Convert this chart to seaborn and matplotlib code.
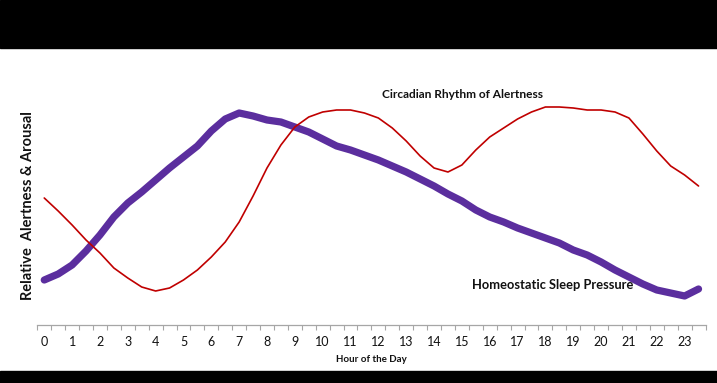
import matplotlib
matplotlib.use("Agg")
import matplotlib.pyplot as plt
from matplotlib.patches import Rectangle
import seaborn as sns
import pandas as pd

hours = [0, 0.5, 1, 1.5, 2, 2.5, 3, 3.5, 4, 4.5, 5, 5.5, 6, 6.5, 7, 7.5,
         8, 8.5, 9, 9.5, 10, 10.5, 11, 11.5, 12, 12.5, 13, 13.5, 14, 14.5,
         15, 15.5, 16, 16.5, 17, 17.5, 18, 18.5, 19, 19.5, 20, 20.5, 21,
         21.5, 22, 22.5, 23, 23.5]

circadian = [127, 114, 100, 85, 72, 57, 47, 38, 34, 37, 45, 55, 68, 83,
             103, 129, 157, 180, 198, 208, 213, 215, 215, 212, 207, 197,
             184, 169, 157, 153, 160, 175, 188, 197, 206, 213, 218, 218,
             217, 215, 215, 213, 207, 191, 174, 159, 150, 139]

homeostatic = [45, 51, 60, 74, 90, 108, 122, 133, 145, 157, 168, 179,
               194, 206, 212, 209, 205, 203, 198, 193, 186, 179, 175, 170,
               165, 159, 153, 146, 139, 131, 124, 115, 108, 103, 97, 92,
               87, 82, 75, 70, 63, 55, 48, 41, 35, 32, 29, 36]

tick_labels = [str(h) for h in range(24)]
label_hours = list(range(24))
boundaries = [h - 0.25 for h in hours] + [23.75]

sns.set_theme(style="white")
plt.rcParams['font.family'] = ['Lato', 'DejaVu Sans']

W, H = 717, 383
fig = plt.figure(figsize=(W / 100, H / 100), dpi=100)
fig.patch.set_facecolor("white")

ax = fig.add_axes([37.3 / W, (H - 325) / H, 668.2 / W, (325 - 48) / H])
ax.set_facecolor("white")

df = pd.DataFrame({"hour": hours, "circ": circadian, "homeo": homeostatic})
sns.lineplot(data=df, x="hour", y="homeo", ax=ax, color="#5B2E9E",
             linewidth=5.2, solid_capstyle="round", solid_joinstyle="round")
sns.lineplot(data=df, x="hour", y="circ", ax=ax, color="#C00000",
             linewidth=1.2)

ax.set_xlim(-0.25, 23.75)
ax.set_ylim(0, 277)
ax.set_xticks(label_hours)
ax.set_xticklabels(tick_labels, fontsize=9, color="#111111")
ax.set_xticks(boundaries, minor=True)
ax.tick_params(axis="x", which="major", length=0, pad=8)
ax.tick_params(axis="x", which="minor", length=3.5, width=0.8,
               color="#A6A6A6", direction="out", bottom=True)
ax.set_yticks([])
ax.set_xlabel("")
ax.set_ylabel("")
for s in ["top", "right", "left"]:
    ax.spines[s].set_visible(False)
ax.spines["bottom"].set_color("#A6A6A6")
ax.spines["bottom"].set_linewidth(0.9)

fig.text(462 / W, 1 - 95 / H, "Circadian Rhythm of Alertness",
         ha="center", va="center", fontsize=8.6, fontweight="bold",
         color="#111111")
fig.text(553 / W, 1 - 285 / H, "Homeostatic Sleep Pressure",
         ha="center", va="center", fontsize=9.3, fontweight="bold",
         color="#111111")
fig.text(371 / W, 1 - 360 / H, "Hour of the Day",
         ha="center", va="center", fontsize=7, fontweight="bold",
         color="#111111")
fig.text(28.5 / W, 1 - 206 / H, "Relative  Alertness & Arousal",
         ha="center", va="center", rotation=90, fontsize=10.5,
         fontweight="bold", color="#111111")

fig.add_artist(Rectangle((0, (H - 48) / H), 1, 48 / H,
                         transform=fig.transFigure, color="black", zorder=10))
fig.add_artist(Rectangle((0, 0), 1, 12 / H,
                         transform=fig.transFigure, color="black", zorder=10))

fig.savefig("out.png", dpi=100, facecolor="white")
